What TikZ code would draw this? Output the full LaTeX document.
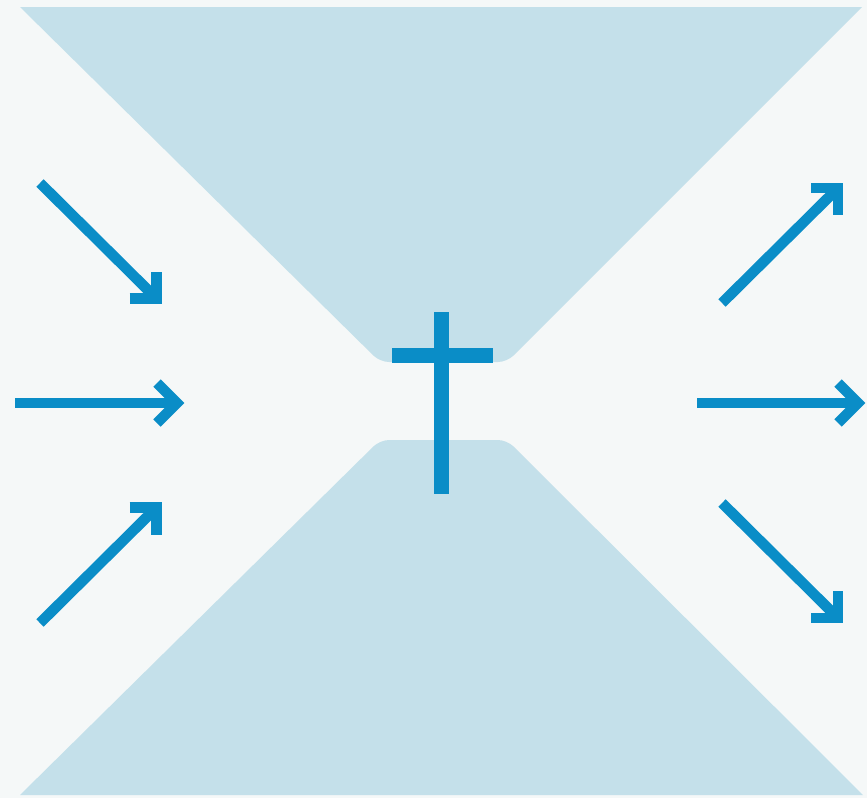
\documentclass[tikz,border=0pt]{standalone}
\usetikzlibrary{calc}
\definecolor{bgc}{HTML}{F5F8F8}
\definecolor{trap}{HTML}{C4E0EA}
\definecolor{arrc}{HTML}{0A8DC7}
\begin{document}
\begin{tikzpicture}[x=1pt,y=-1pt,
  shaft/.style={draw=arrc,line width=10.5pt,line cap=butt},
  head/.style={draw=arrc,line width=10.5pt,line cap=butt,line join=miter,miter limit=10}]
\useasboundingbox (0,0) rectangle (867,798);
\fill[bgc] (0,0) rectangle (867,798);
% trapezoids
\fill[trap] (20,7) -- (862,7) [rounded corners=9pt] -- (507,362) -- (380,362) [sharp corners] -- (20,7) -- cycle;
\fill[trap] (20,795) -- (863,795) [rounded corners=9pt] -- (507,440) -- (380,440) [sharp corners] -- (20,795) -- cycle;
% cross
\fill[arrc] (434,312) rectangle (449,494);
\fill[arrc] (392,348) rectangle (493,363);
% arrow coordinates
\coordinate (s1) at (40,183);  \coordinate (t1) at (156.5,298.5);
\coordinate (s2) at (15,403);  \coordinate (t2) at (177,403);
\coordinate (s3) at (40,623);  \coordinate (t3) at (156.5,507.5);
\coordinate (s4) at (722,303); \coordinate (t4) at (838,188);
\coordinate (s5) at (697,403); \coordinate (t5) at (858,403);
\coordinate (s6) at (722,503); \coordinate (t6) at (838,618);
% shafts
\draw[shaft] (s1) -- (t1);
\draw[shaft] (s2) -- (t2);
\draw[shaft] (s3) -- (t3);
\draw[shaft] (s4) -- (t4);
\draw[shaft] (s5) -- (t5);
\draw[shaft] (s6) -- (t6);
% heads
\draw[head] ($(t1)+(-27,0)$) -- (t1) -- ($(t1)+(0,-27)$);
\draw[head] ($(t2)+(-20,-20)$) -- (t2) -- ($(t2)+(-20,20)$);
\draw[head] ($(t3)+(-27,0)$) -- (t3) -- ($(t3)+(0,27)$);
\draw[head] ($(t4)+(-27,0)$) -- (t4) -- ($(t4)+(0,27)$);
\draw[head] ($(t5)+(-20,-20)$) -- (t5) -- ($(t5)+(-20,20)$);
\draw[head] ($(t6)+(-27,0)$) -- (t6) -- ($(t6)+(0,-27)$);
\end{tikzpicture}
\end{document}
